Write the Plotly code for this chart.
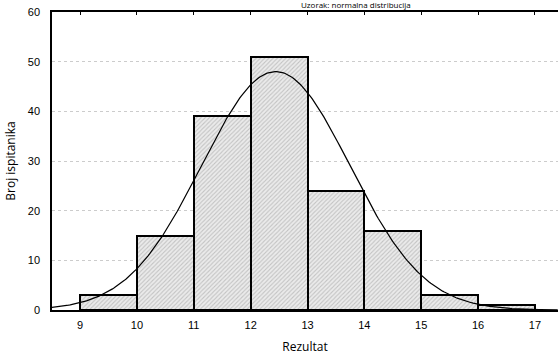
import numpy as np
import plotly.graph_objects as go

# Data
bin_left = [9, 10, 11, 12, 13, 14, 15, 16]
counts = [3, 15, 39, 51, 24, 16, 3, 1]
bin_width = 1
x_ticks = [9, 10, 11, 12, 13, 14, 15, 16, 17]
y_ticks = [0, 10, 20, 30, 40, 50, 60]

mids = [b + bin_width / 2 for b in bin_left]
n = sum(counts)
mean = sum(m * c for m, c in zip(mids, counts)) / n
var = sum(c * (m - mean) ** 2 for m, c in zip(mids, counts)) / (n - 1)
sd = var ** 0.5
xs = np.linspace(8.5, 17.4, 300)
ys = 48 * np.exp(-0.5 * ((xs - mean) / sd) ** 2)

fig = go.Figure()
fig.add_trace(go.Bar(
    x=mids, y=counts, width=bin_width,
    marker=dict(
        color="#e6e6e6",
        line=dict(color="black", width=2),
        pattern=dict(shape="/", fgcolor="#9a9a9a", bgcolor="#ebebeb", size=3, solidity=0.35),
    ),
    showlegend=False,
))
fig.add_trace(go.Scatter(
    x=xs, y=ys, mode="lines",
    line=dict(color="black", width=1.2),
    showlegend=False,
))

fig.update_layout(
    width=558, height=362,
    margin=dict(l=52, r=0, t=12, b=52),
    plot_bgcolor="white", paper_bgcolor="white",
    font=dict(family="Liberation Sans, Arial, sans-serif", size=11, color="black"),
    bargap=0,
)
fig.update_xaxes(
    range=[8.507, 17.405],
    tickvals=x_ticks, automargin=False,
    ticks="inside", ticklen=3, tickcolor="black", ticklabelstandoff=4,
    showline=True, linecolor="black", linewidth=1.5, mirror="ticks",
    showgrid=False, zeroline=False,
    title=dict(text="Rezultat", font=dict(family="Open Sans, Lato, sans-serif", size=12), standoff=13),
)
fig.update_yaxes(
    range=[0, 60],
    tickvals=y_ticks, automargin=False,
    ticks="", showline=True, linecolor="black", linewidth=1.5,
    showgrid=True, gridcolor="#cccccc", griddash="dot", gridwidth=1,
    zeroline=False, ticklabelstandoff=8,
    title=dict(text="Broj ispitanika", font=dict(family="Open Sans, Lato, sans-serif", size=12), standoff=10),
)
fig.add_annotation(
    text="Uzorak: normalna distribucija", xref="paper", yref="paper",
    x=0.6, y=1, yshift=0, xanchor="center", yanchor="bottom",
    showarrow=False, font=dict(size=8, family="Open Sans, Lato, sans-serif"),
)

fig.write_html("out.html", config={"displayModeBar": False},
               post_script="document.body.style.margin='0';")
